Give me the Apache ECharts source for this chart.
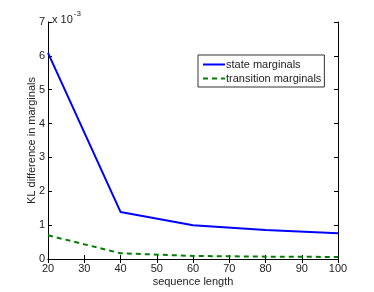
<!DOCTYPE html>
<html><head><meta charset="utf-8">
<script src="https://cdn.jsdelivr.net/npm/echarts@6/dist/echarts.min.js"></script>
<style>html,body{margin:0;padding:0;background:#fff}#c{width:374px;height:292px}</style>
</head><body><div id="c"></div>
<script>
var seqLen = [20, 40, 60, 80, 100];
var stateKL = [6.09, 1.39, 1.00, 0.86, 0.76];
var transKL = [0.70, 0.17, 0.09, 0.07, 0.06];
var xTicks = [20, 30, 40, 50, 60, 70, 80, 90, 100];
var yTicks = [0, 1, 2, 3, 4, 5, 6, 7];

var font = 'Liberation Sans, Arial, Helvetica, sans-serif';
var chart = echarts.init(document.getElementById('c'), null, {renderer: 'canvas'});
function pairs(xs, ys) { return xs.map(function (x, i) { return [x, ys[i]]; }); }
var axisLineStyle = {show: true, lineStyle: {color: '#000', width: 1}};
var tickIn = {show: true, inside: true, length: 4, lineStyle: {color: '#000'}};
chart.setOption({
  animation: false,
  backgroundColor: '#fff',
  textStyle: {fontFamily: font},
  grid: {left: 48, right: 36, top: 22, bottom: 33, containLabel: false},
  title: {
    text: '{a|x 10}{s|-3}', left: 47, top: 5,
    textStyle: {fontWeight: 'normal', rich: {a: {fontSize: 11, fontWeight: 'normal', color: '#222', fontFamily: font, verticalAlign: 'bottom', padding: [4,0,0,0]}, s: {fontSize: 8, fontWeight: 'normal', color: '#222', fontFamily: font, verticalAlign: 'top', padding: [0,0,6,1]}}}
  },
  legend: {
    left: 198, top: 55, orient: 'vertical',
    borderColor: '#333', borderWidth: 1, borderRadius: 0,
    padding: [4, 3, 3, 4], itemGap: 3, itemWidth: 22, itemHeight: 10,
    backgroundColor: '#fff',
    itemStyle: {opacity: 0},
    textStyle: {fontSize: 11, color: '#222', fontFamily: font, padding: [0,0,0,-4]},
    data: ['state marginals', 'transition marginals']
  },
  xAxis: [{
    type: 'value', min: 20, max: 100, interval: 10, position: 'bottom',
    name: 'sequence length', nameLocation: 'middle', nameGap: 17, nameMoveOverlap: false,
    nameTextStyle: {fontSize: 11, color: '#222', fontFamily: font},
    axisLine: axisLineStyle, axisTick: tickIn, splitLine: {show: false},
    axisLabel: {fontSize: 11, color: '#222', margin: 4, fontFamily: font,
      formatter: function (v) { return xTicks.indexOf(v) >= 0 ? String(v) : ''; }}
  }, {
    type: 'value', min: 20, max: 100, interval: 10, position: 'top',
    axisLine: axisLineStyle, axisTick: tickIn, axisLabel: {show: false}, splitLine: {show: false}
  }],
  yAxis: [{
    type: 'value', min: 0, max: 7, interval: 1, position: 'left',
    name: 'KL difference in marginals', nameLocation: 'middle', nameGap: 11, nameMoveOverlap: false,
    nameTextStyle: {fontSize: 11, color: '#222', fontFamily: font},
    axisLine: axisLineStyle, axisTick: tickIn, splitLine: {show: false},
    axisLabel: {fontSize: 11, color: '#222', margin: 3, fontFamily: font,
      formatter: function (v) { return yTicks.indexOf(v) >= 0 ? String(v) : ''; }}
  }, {
    type: 'value', min: 0, max: 7, interval: 1, position: 'right',
    axisLine: axisLineStyle, axisTick: tickIn, axisLabel: {show: false}, splitLine: {show: false}
  }],
  series: [{
    name: 'state marginals', type: 'line', symbol: 'none',
    lineStyle: {color: '#0000ff', width: 2}, itemStyle: {color: '#0000ff'},
    data: pairs(seqLen, stateKL)
  }, {
    name: 'transition marginals', type: 'line', symbol: 'none',
    lineStyle: {color: '#008000', width: 2, type: [5, 4]}, itemStyle: {color: '#008000'},
    data: pairs(seqLen, transKL)
  }]
});
</script></body></html>
